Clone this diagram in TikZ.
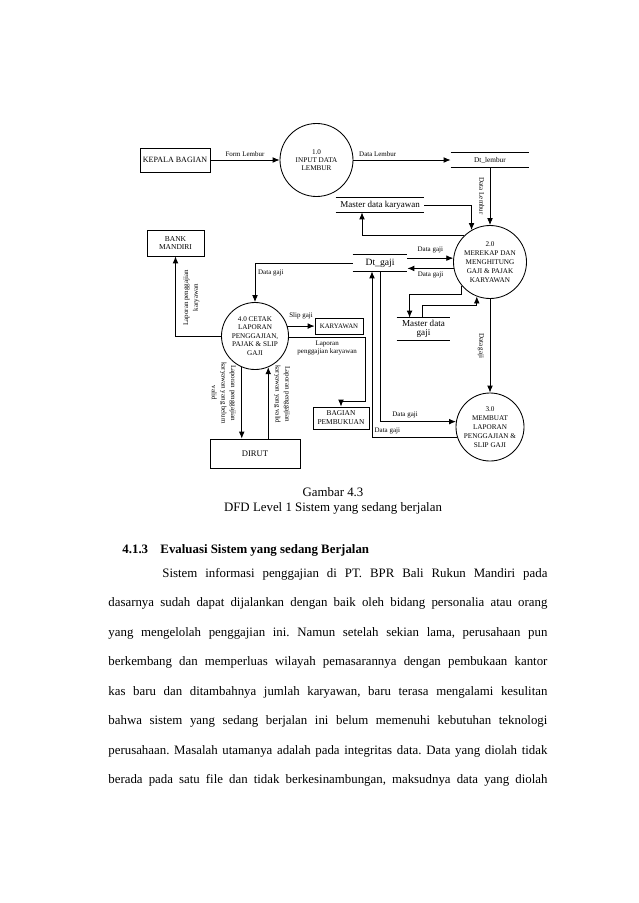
\documentclass[tikz,border=0pt]{standalone}
\usepackage{fontspec}
\setmainfont{Liberation Serif}
\usetikzlibrary{calc,arrows.meta}
\newcommand{\pxl}{0.933pt}

\begin{document}
\begin{tikzpicture}[x=0.933pt,y=-0.933pt,line width=0.8pt,
    entitas/.style={draw,rectangle,inner sep=0pt,align=center},
    proses/.style={draw,circle,inner sep=0pt,align=center,font=\fontsize{6.7}{8.4}\selectfont},
    simpan/.style={rectangle,inner sep=0pt,align=center},
    alir/.style={-{Latex[length=6.5pt,width=5.4pt]}},
    ket/.style={inner sep=1.5pt,outer sep=1.5pt,align=center,font=\fontsize{6.5}{7.8}\selectfont},
    ketv/.style={ket,outer sep=4pt,font=\fontsize{6.5}{9}\selectfont},
    isi/.style={anchor=base west,inner sep=0pt,font=\fontsize{12}{14}\selectfont}]
    \fill[white] (0,0) rectangle (638,903);

    % Entitas luar, proses dan penyimpanan data.
    \node[entitas,minimum width=70*\pxl,minimum height=24*\pxl,font=\fontsize{7.5}{9}\selectfont] (kepala) at (175,160) {KEPALA BAGIAN};
    \node[proses,minimum size=73*\pxl,font=\fontsize{6.7}{7.6}\selectfont] (c1) at (316.5,160) {1.0\\INPUT DATA\\LEMBUR};
    \node[simpan,minimum width=78*\pxl,minimum height=14*\pxl,font=\fontsize{6.8}{8}\selectfont] (dtlembur) at (490,160) {Dt\_lembur};
    \node[simpan,minimum width=88*\pxl,minimum height=14*\pxl,font=\fontsize{8.4}{10}\selectfont] (mdk) at (380,205) {Master data karyawan};
    \node[proses,minimum size=73*\pxl] (c2) at (490,262) {2.0\\MEREKAP DAN\\MENGHITUNG\\GAJI \& PAJAK\\KARYAWAN};
    \node[simpan,minimum width=54*\pxl,minimum height=16*\pxl,font=\fontsize{9}{11}\selectfont] (dtgaji) at (380,263) {Dt\_gaji};
    \node[simpan,minimum width=53*\pxl,minimum height=22*\pxl,font=\fontsize{8.5}{8.4}\selectfont] (mdg) at (423.5,329) {Master data\\gaji};
    \node[proses,minimum size=68*\pxl] (c3) at (490,427) {3.0\\MEMBUAT\\LAPORAN\\PENGGAJIAN \&\\SLIP GAJI};
    \node[proses,minimum size=67*\pxl,font=\fontsize{6.7}{7.8}\selectfont] (c4) at (255,336) {4.0 CETAK\\LAPORAN\\PENGGAJIAN,\\PAJAK \& SLIP\\GAJI};
    \node[entitas,minimum width=57*\pxl,minimum height=26*\pxl,font=\fontsize{7}{8}\selectfont] (bank) at (175.5,243) {BANK\\MANDIRI};
    \node[entitas,minimum width=48*\pxl,minimum height=16*\pxl,font=\fontsize{6.4}{8}\selectfont] (karyawan) at (339,326) {KARYAWAN};
    \node[entitas,minimum width=56*\pxl,minimum height=22*\pxl,font=\fontsize{6.9}{8.4}\selectfont] (bagian) at (341,418) {BAGIAN\\PEMBUKUAN};
    \node[entitas,minimum width=90*\pxl,minimum height=29*\pxl,font=\fontsize{8}{10}\selectfont] (dirut) at (255,453.5) {DIRUT};
    \foreach \s in {dtlembur,mdk,dtgaji,mdg}
        \draw (\s.north west) -- (\s.north east) (\s.south west) -- (\s.south east);

    % Aliran data.
    \draw[alir] (kepala) -- (c1) node[ket,midway,above] (k1) {Form Lembur};
    \draw[alir] (c1) -- (dtlembur) node[ket,pos=0.25,above] (k2) {Data Lembur};
    \draw[alir] (dtlembur) -- (c2) node[ketv,midway,rotate=-90,anchor=north] (k3) {Data Lembur};
    \draw[alir] (mdk.east) -| (c2.120);
    \draw[alir] (c2.135) -| ($(mdk.south)+(-18,0)$);
    \draw[alir] (dtgaji.east |- c2.174) -- (c2.174) node[ket,midway,above,yshift=2pt] (k6) {Data gaji};
    \draw[alir] (c2.190) -- (dtgaji.east |- c2.190) node[ket,midway,below] (k7) {Data gaji};
    \draw[alir] (dtgaji) -| (c4) node[ket,pos=0.55,anchor=north west] (k8) {Data gaji};
    \draw[alir] (c4.17) -- (c4.17 -| karyawan.west) node[ket,midway,above,yshift=4pt] (k9) {Slip gaji};
    \draw[alir] (c4.357) -| ($(bagian.north east)+(-4,-5)$)
        node[ket,pos=0.25,below] (k10) {Laporan\\penggajian karyawan} -| (bagian);
    \draw[alir] (c4) -| (bank) node[ketv,pos=0.74,rotate=90,anchor=north,outer sep=6pt] (k11) {Laporan penggajian\\karyawan};
    \draw[alir] (c4.247) -- (c4.247 |- dirut.north)
        node[ketv,pos=0.36,rotate=-90,anchor=north] (k12) {Laporan penggajian\\karyawan yang belum\\valid};
    \draw[alir] (c4.293 |- dirut.north) -- (c4.293)
        node[ketv,pos=0.62,rotate=-90,anchor=south] (k13) {Laporan penggajian\\karyawan yang valid};
    \draw[alir] (c2.220) |- ($(mdg.north west)+(13,-23)$) -- ($(mdg.north west)+(13,0)$);
    \draw[alir] ($(mdg.north west)+(26,0)$) -- ++(0,-12) -| (c2.249);
    \draw[alir] (c2) -- (c3) node[ketv,midway,rotate=-90,anchor=north] (k16) {Data gaji};
    \draw[alir] (dtgaji) |- (c3.171) node[ket,pos=0.665,above] (k17) {Data gaji};
    \draw[alir] (c3.197) -| ($(dtgaji.south)+(-8,0)$) node[ket,pos=0.41,above] (k18) {Data gaji};

    % Keterangan gambar dan teks halaman.
    \node[align=center,inner sep=0pt,font=\fontsize{12}{14}\selectfont] (gambar) at (333,500.5)
        {Gambar 4.3\\DFD Level 1 Sistem yang sedang berjalan};
    \node[isi,font=\fontsize{12}{14}\selectfont\bfseries] (nomor) at (122,553) {4.1.3};
    \node[isi,font=\fontsize{12}{14}\selectfont\bfseries] (judul) at (160,553) {Evaluasi Sistem yang sedang Berjalan};
    \node[isi] (b1) at (162,577) {\frenchspacing\makebox[359.2pt][s]{Sistem informasi penggajian di PT. BPR Bali Rukun Mandiri pada}};
    \foreach \baris [count=\i from 2] in {
        {dasarnya sudah dapat dijalankan dengan baik oleh bidang personalia atau orang},
        {yang mengelolah penggajian ini. Namun setelah sekian lama, perusahaan pun},
        {berkembang dan memperluas wilayah pemasarannya dengan pembukaan kantor},
        {kas baru dan ditambahnya jumlah karyawan, baru terasa mengalami kesulitan},
        {bahwa sistem yang sedang berjalan ini belum memenuhi kebutuhan teknologi},
        {perusahaan. Masalah utamanya adalah pada integritas data. Data yang diolah tidak},
        {berada pada satu file dan tidak berkesinambungan, maksudnya data yang diolah}}
        \node[isi] (b\i) at (108,{577+29.5*(\i-1)}) {\frenchspacing\makebox[409.6pt][s]{\baris}};
\end{tikzpicture}
\end{document}
